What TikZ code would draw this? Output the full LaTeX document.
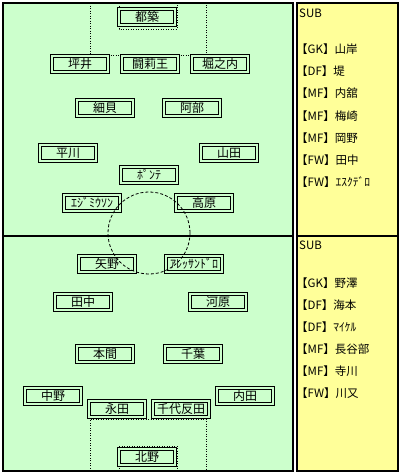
\documentclass[tikz,border=0pt]{standalone}
\usepackage{fontspec}
\setmainfont{Noto Sans CJK JP}
\definecolor{pitch}{RGB}{204,255,204}
\definecolor{bench}{RGB}{255,255,153}

\begin{document}
\begin{tikzpicture}[x=1pt,y=-1pt,
	player/.style={draw=black,line width=1pt,double=pitch,double distance=1.6pt,fill=pitch,minimum width=56.5pt,minimum height=15.5pt,inner sep=0pt,font=\fontsize{12}{12}\selectfont},
	subname/.style={anchor=west,inner sep=0pt,font=\fontsize{11.5}{12}\selectfont},
	arealine/.style={line width=0.9pt,dash pattern=on 1pt off 1.5pt}]
	\useasboundingbox (0,0) rectangle (400,474);
	\fill[white] (0,0) rectangle (400,474);
	\draw[line width=2.5pt,fill=pitch] (3,3) rectangle (293,471);
	\draw[line width=2.5pt,fill=bench] (297,3) rectangle (398,471);
	\draw[line width=2.5pt] (3,236) -- (293,236);
	\draw[line width=2.5pt] (297,236) -- (398,236);
	\draw[arealine] (90,3) |- (206,55) -- (206,3);
	\draw[arealine] (119,3) |- (177,29) -- (177,3);
	\draw[arealine] (90,471) |- (206,419) -- (206,471);
	\draw[arealine] (119,471) |- (177,446) -- (177,471);

	\node[player] (tsuzuki) at (147,17) {都築};
	\node[player] (tsuboi) at (80,64) {坪井};
	\node[player] (tulio) at (150,64) {闘莉王};
	\node[player] (horinouchi) at (220,64) {堀之内};
	\node[player] (hosogai) at (105,108) {細貝};
	\node[player] (abe) at (192,108) {阿部};
	\node[player] (hirakawa) at (68,153) {平川};
	\node[player] (yamada) at (229,153) {山田};
	\node[player] (ponte) at (149,175) {ﾎﾟﾝﾃ};
	\node[player] (edmilson) at (92,203) {ｴｼﾞﾐｳｿﾝ};
	\node[player] (takahara) at (204,203) {高原};

	\node[player] (yano) at (107,264) {矢野};
	\node[player] (alessandro) at (194,264) {ｱﾚｯｻﾝﾄﾞﾛ};
	\node[player] (tanaka) at (83,302) {田中};
	\node[player] (kawahara) at (218,302) {河原};
	\node[player] (honma) at (105,354) {本間};
	\node[player] (chiba) at (193,354) {千葉};
	\node[player] (nakano) at (53,396) {中野};
	\node[player] (uchida) at (245,396) {内田};
	\node[player] (nagata) at (117,409) {永田};
	\node[player] (chiyotanda) at (181,409) {千代反田};
	\node[player] (kitano) at (147,457) {北野};

	\draw[line width=0.8pt,dash pattern=on 3pt off 2pt] (149,233) circle (41pt);

	\node[subname] (subtop) at (299,13) {SUB};
	\node[subname] (subtopA) at (296,49) {【GK】山岸};
	\node[subname] (subtopB) at (296,71) {【DF】堤};
	\node[subname] (subtopC) at (296,93) {【MF】内舘};
	\node[subname] (subtopD) at (296,116) {【MF】梅崎};
	\node[subname] (subtopE) at (296,138) {【MF】岡野};
	\node[subname] (subtopF) at (296,160) {【FW】田中};
	\node[subname] (subtopG) at (296,182) {【FW】ｴｽｸﾃﾞﾛ};

	\node[subname] (subbot) at (299,245) {SUB};
	\node[subname] (subbotA) at (296,283) {【GK】野澤};
	\node[subname] (subbotB) at (296,305) {【DF】海本};
	\node[subname] (subbotC) at (296,327) {【DF】ﾏｲｹﾙ};
	\node[subname] (subbotD) at (296,349) {【MF】長谷部};
	\node[subname] (subbotE) at (296,371) {【MF】寺川};
	\node[subname] (subbotF) at (296,393) {【FW】川又};
\end{tikzpicture}
\end{document}
